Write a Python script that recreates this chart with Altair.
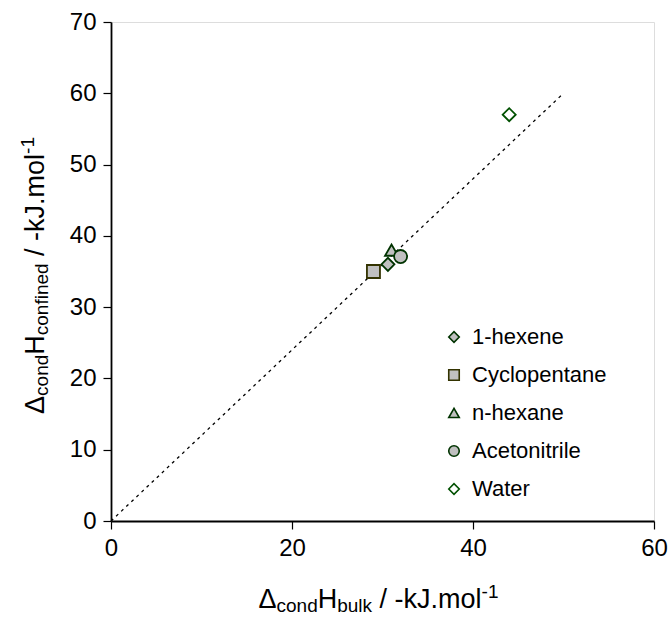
import altair as alt
import pandas as pd

# ---- data ----
compounds = ["1-hexene", "Cyclopentane", "n-hexane", "Acetonitrile", "Water"]
bulk = [30.6, 29.0, 31.0, 32.0, 44.0]
confined = [36.0, 35.0, 38.0, 37.1, 57.0]
shapes = ["diamond", "square", "triangle-up", "circle", "diamond"]
fills = ["#c0c0c0", "#c0c0c0", "#c0c0c0", "#c0c0c0", "#ffffff"]
strokes = ["#003300", "#333300", "#003300", "#003300", "#005000"]

line_x = [0, 50]
line_y = [0, 60]

x_ticks = [0, 20, 40, 60]
y_ticks = [0, 10, 20, 30, 40, 50, 60, 70]

TOP = 22
W, H = 543, 499
FONT = "Arial, Liberation Sans, sans-serif"
TICK_FS = 24
LEG_FS = 22
MAIN_FS = 27
SUB_FS = 19

pts = pd.DataFrame({"Compound": compounds, "bulk": bulk, "confined": confined})
ln = pd.DataFrame({"bulk": line_x, "confined": line_y})

xscale = alt.Scale(domain=[0, 60], nice=False, zero=False)
yscale = alt.Scale(domain=[0, 70], nice=False, zero=False)

line = alt.Chart(ln).mark_line(color="black", strokeWidth=1.3, strokeDash=[3, 4]).encode(
    x=alt.X("bulk:Q", scale=xscale,
            axis=alt.Axis(values=x_ticks, title=None, grid=False, tickSize=8,
                          labelFontSize=TICK_FS, labelFont=FONT, labelColor="black",
                          domainColor="black", tickColor="black", domainWidth=1.8,
                          tickWidth=1.2, labelPadding=7, labelFlush=False,
                          labelOverlap=False)),
    y=alt.Y("confined:Q", scale=yscale,
            axis=alt.Axis(values=y_ticks, title=None, grid=False, tickSize=8,
                          labelFontSize=TICK_FS, labelFont=FONT, labelColor="black",
                          domainColor="black", tickColor="black", domainWidth=1.8,
                          tickWidth=1.2, labelPadding=7, labelFlush=False,
                          labelOverlap=False)),
)

points = alt.Chart(pts).mark_point(filled=False, size=170, strokeWidth=1.8, opacity=1).encode(
    x=alt.X("bulk:Q", scale=xscale),
    y=alt.Y("confined:Q", scale=yscale),
    shape=alt.Shape("Compound:N", scale=alt.Scale(domain=compounds, range=shapes),
                    legend=alt.Legend(title=None, orient="none", legendX=332, legendY=304,
                                      labelFontSize=LEG_FS, labelFont=FONT, labelColor="black",
                                      symbolSize=110, symbolStrokeWidth=1.6, labelOffset=7,
                                      rowPadding=16, padding=0, symbolType="circle")),
    fill=alt.Fill("Compound:N", scale=alt.Scale(domain=compounds, range=fills)),
    stroke=alt.Stroke("Compound:N", scale=alt.Scale(domain=compounds, range=strokes)),
)

# ---- rich-text axis titles (subscripts / superscripts) ----
WID = {" ": 278, "/": 278, "-": 333, ".": 278, "1": 556, "a": 556, "b": 556,
       "c": 500, "d": 556, "e": 556, "f": 278, "h": 556, "i": 222, "k": 500, "l": 222,
       "m": 833, "n": 556, "o": 556, "p": 556, "r": 333, "t": 278, "u": 556, "x": 500,
       "y": 500, "H": 722, "J": 500, "Δ": 668}


def tw(s, fs):
    return sum(WID.get(ch, 556) for ch in s) * fs / 1000.0


def rich(pieces):
    rows, pos = [], 0.0
    for txt, kind in pieces:
        if kind == "gap":
            pos += tw(" ", MAIN_FS)
            continue
        fs = MAIN_FS if kind == "main" else SUB_FS
        shift = 0 if kind == "main" else (4 if kind == "sub" else -10)
        rows.append({"t": txt, "off": pos, "fs": fs, "shift": shift})
        pos += tw(txt, fs)
    for r in rows:
        r["total"] = pos
    return pd.DataFrame(rows)


xt = rich([("Δ", "main"), ("cond", "sub"), ("H", "main"), ("bulk", "sub"),
           ("", "gap"), ("/", "main"), ("", "gap"), ("-kJ.mol", "main"), ("-1", "sup")])
xt["px"] = W / 2 - 4 - xt["total"] / 2 + xt["off"]
xt["py"] = 586 + xt["shift"]

yt = rich([("Δ", "main"), ("cond", "sub"), ("H", "main"), ("confined", "sub"),
           ("", "gap"), ("/", "main"), ("", "gap"), ("-kJ.mol", "main"), ("-1", "sup")])
yt["py"] = H / 2 + 4 + yt["total"] / 2 - yt["off"]
yt["px"] = -67 + yt["shift"]

xtitle = alt.Chart(xt).mark_text(align="left", baseline="alphabetic", font=FONT,
                                 color="black").encode(
    x=alt.X("px:Q", scale=None, axis=None), y=alt.Y("py:Q", scale=None, axis=None),
    text="t:N", size=alt.Size("fs:Q", scale=None, legend=None))

ytitle = alt.Chart(yt).mark_text(align="left", baseline="alphabetic", font=FONT,
                                 color="black", angle=270).encode(
    x=alt.X("px:Q", scale=None, axis=None), y=alt.Y("py:Q", scale=None, axis=None),
    text="t:N", size=alt.Size("fs:Q", scale=None, legend=None))

chart = alt.layer(alt.layer(line, points), xtitle, ytitle).resolve_scale(
    x="independent", y="independent"
).properties(
    width=W, height=H,
    autosize=alt.AutoSizeParams(type="none"),
    padding={"left": 111, "top": TOP, "right": 18, "bottom": 618 - TOP - H},
).configure_view(stroke=None).configure(background="white")

chart.save("out.html", embed_options={"renderer": "svg", "actions": False})
